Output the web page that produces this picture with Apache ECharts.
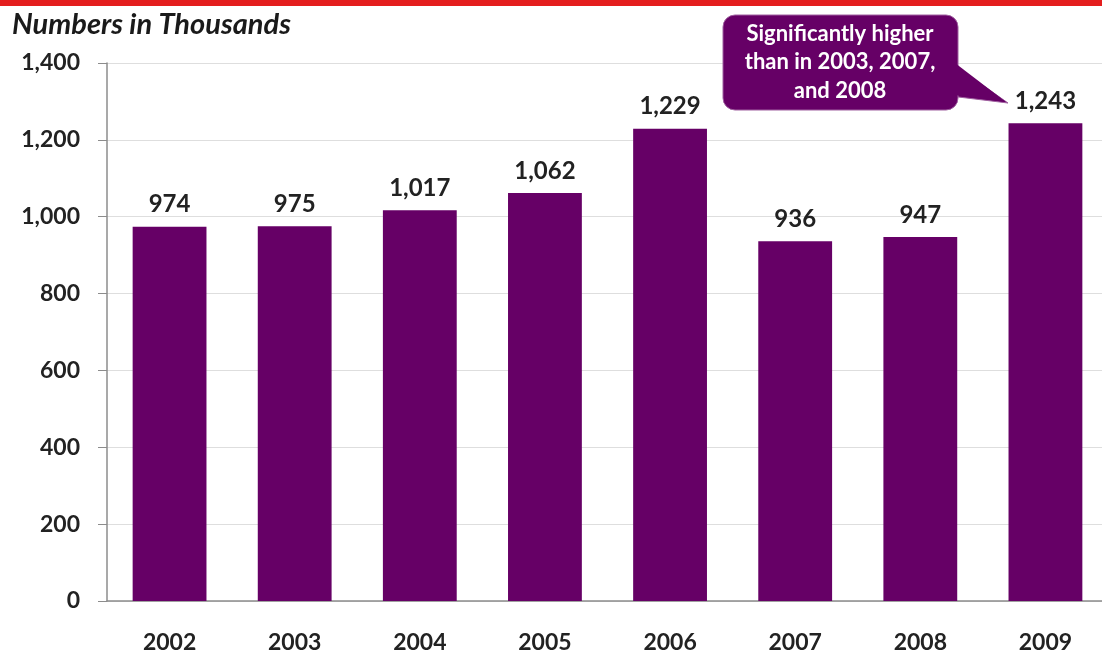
<!DOCTYPE html>
<html><head><meta charset="utf-8">
<script src="https://cdn.jsdelivr.net/npm/echarts@6/dist/echarts.min.js"></script>
<style>html,body{margin:0;padding:0;background:#fff}#c{width:1102px;height:660px}</style>
</head><body><div id="c"></div>
<script>
const categories = ['2002','2003','2004','2005','2006','2007','2008','2009'];
const values = [974, 975, 1017, 1062, 1229, 936, 947, 1243];
const yTicks = {min: 0, max: 1400, interval: 200};
const titleText = 'Numbers in Thousands';
const calloutLines = ['Significantly higher', 'than in 2003, 2007,', 'and 2008'];

const FONT = 'Lato';
const PURPLE = '#660066';
const fmt = v => v.toLocaleString('en-US');

const chart = echarts.init(document.getElementById('c'), null, {renderer: 'canvas'});
chart.setOption({
  animation: false,
  backgroundColor: '#fff',
  textStyle: {fontFamily: FONT},
  grid: {left: 107, width: 1001, top: 63, height: 538, containLabel: false, outerBoundsMode: 'none'},
  xAxis: {
    type: 'category', data: categories,
    axisLine: {lineStyle: {color: '#8c8c8c', width: 1.5}},
    axisTick: {show: false},
    axisLabel: {margin: 30, color: '#222', fontSize: 23, fontWeight: 'bold', fontFamily: FONT}
  },
  yAxis: {
    type: 'value', min: yTicks.min, max: yTicks.max, interval: yTicks.interval,
    axisLine: {show: true, lineStyle: {color: '#8c8c8c', width: 1.5}},
    axisTick: {show: true, length: 9, lineStyle: {color: '#8c8c8c'}},
    splitLine: {show: true, lineStyle: {color: '#dedede', width: 1}},
    axisLabel: {margin: 27, color: '#222', fontSize: 23, fontWeight: 'bold', fontFamily: FONT, formatter: v => fmt(v)}
  },
  series: [{
    type: 'bar', data: values, barCategoryGap: '41%',
    itemStyle: {color: PURPLE},
    label: {show: true, position: 'top', distance: 10, color: '#222', fontSize: 24, fontWeight: 'bold', fontFamily: FONT, formatter: p => fmt(p.value)}
  }],
  graphic: [
    {type: 'rect', shape: {x: 0, y: 0, width: 1102, height: 6}, style: {fill: '#e41e1e'}, z: 100},
    {type: 'text', left: 12, top: 10, style: {text: titleText, font: 'italic bold 29px ' + FONT, fill: '#1a1a1a'}, z: 100},
    {type: 'polygon', shape: {points: [[950, 62], [1008, 103], [950, 96]]}, style: {fill: PURPLE, stroke: '#a060a0', lineWidth: 1}, z: 99},
    {type: 'rect', shape: {x: 723, y: 15, width: 235, height: 95, r: 12}, style: {fill: PURPLE, stroke: '#a060a0', lineWidth: 1}, z: 100},
    {type: 'polygon', shape: {points: [[955, 63], [1006, 102], [955, 95]]}, style: {fill: PURPLE}, z: 101},
    {type: 'text', x: 840, y: 62, style: {text: calloutLines.join('\n'), align: 'center', verticalAlign: 'middle', lineHeight: 28.5, font: 'bold 22px ' + FONT, fill: '#fff'}, z: 102}
  ]
});
</script></body></html>
